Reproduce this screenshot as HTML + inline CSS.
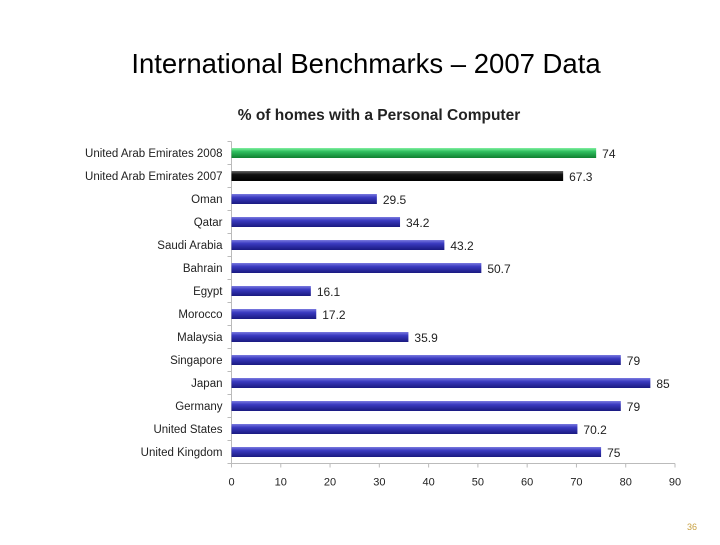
<!DOCTYPE html>
<html><head><meta charset="utf-8"><style>
body{margin:0;width:720px;height:540px;background:#fff;overflow:hidden;font-family:"Liberation Sans",sans-serif}
</style></head><body>
<svg width="720" height="540" xmlns="http://www.w3.org/2000/svg">
<defs>
<linearGradient id="gb" x1="0" y1="0" x2="0" y2="1"><stop offset="0" stop-color="#7a7ae0"/><stop offset="0.35" stop-color="#3a3ac0"/><stop offset="1" stop-color="#1a1a80"/></linearGradient>
<linearGradient id="gg" x1="0" y1="0" x2="0" y2="1"><stop offset="0" stop-color="#80f0a0"/><stop offset="0.35" stop-color="#30c060"/><stop offset="1" stop-color="#108030"/></linearGradient>
<linearGradient id="gk" x1="0" y1="0" x2="0" y2="1"><stop offset="0" stop-color="#666"/><stop offset="0.35" stop-color="#111"/><stop offset="1" stop-color="#000"/></linearGradient>
</defs>
<text x="366" y="73" text-anchor="middle" font-size="27.5" fill="#000">International Benchmarks – 2007 Data</text>
<text x="379" y="120" text-anchor="middle" font-size="15.5" font-weight="bold" fill="#222">% of homes with a Personal Computer</text>
<g id="plot"></g>
<text x="697" y="530" text-anchor="end" font-size="9" fill="#c8a040">36</text>
</svg>
<script>
const categories=["United Arab Emirates 2008","United Arab Emirates 2007","Oman","Qatar","Saudi Arabia","Bahrain","Egypt","Morocco","Malaysia","Singapore","Japan","Germany","United States","United Kingdom"];
const values=[74,67.3,29.5,34.2,43.2,50.7,16.1,17.2,35.9,79,85,79,70.2,75];
const valueLabels=["74","67.3","29.5","34.2","43.2","50.7","16.1","17.2","35.9","79","85","79","70.2","75"];
const ticks=[0,10,20,30,40,50,60,70,80,90];
const x0=231.5,x1=675,xmax=90,plotTop=141.5,step=23,bh=10;
const X=v=>x0+(x1-x0)*v/xmax;
const Y=i=>plotTop+step*i+step/2;
const g=document.getElementById('plot');
const ns="http://www.w3.org/2000/svg";
function mk(t,a){const e=document.createElementNS(ns,t);for(const k in a)e.setAttribute(k,a[k]);g.appendChild(e);return e;}
const axisY=plotTop+step*categories.length;
let e=mk('line',{x1:x0,y1:plotTop,x2:x0,y2:axisY,stroke:'#bbb'});


e=mk('line',{x1:x0,y1:axisY,x2:x1,y2:axisY,stroke:'#bbb'});


for(let i=0;i<=categories.length;i++){mk('line',{x1:x0-4,y1:plotTop+step*i,x2:x0,y2:plotTop+step*i,stroke:'#bbb'});}
ticks.forEach(t=>{
 mk('line',{x1:X(t),y1:axisY,x2:X(t),y2:axisY+4,stroke:'#bbb'});
 const tx=mk('text',{x:X(t),y:axisY+22,'text-anchor':'middle','font-size':11,fill:'#222'});tx.textContent=t;
 
 
});
categories.forEach((c,i)=>{
 const fill=i==0?'url(#gg)':i==1?'url(#gk)':'url(#gb)';
 const r=mk('rect',{x:x0,y:Y(i)-bh/2,width:X(values[i])-x0,height:bh,fill:fill});
 
 
 const l=mk('text',{x:x0-9,y:Y(i)+4,'text-anchor':'end','font-size':11.5,fill:'#222'});l.textContent=c;
 
 
 const v=mk('text',{x:X(values[i])+6,y:Y(i)+5,'font-size':12,fill:'#222'});v.textContent=valueLabels[i];
 
 
});
</script>
</body></html>
